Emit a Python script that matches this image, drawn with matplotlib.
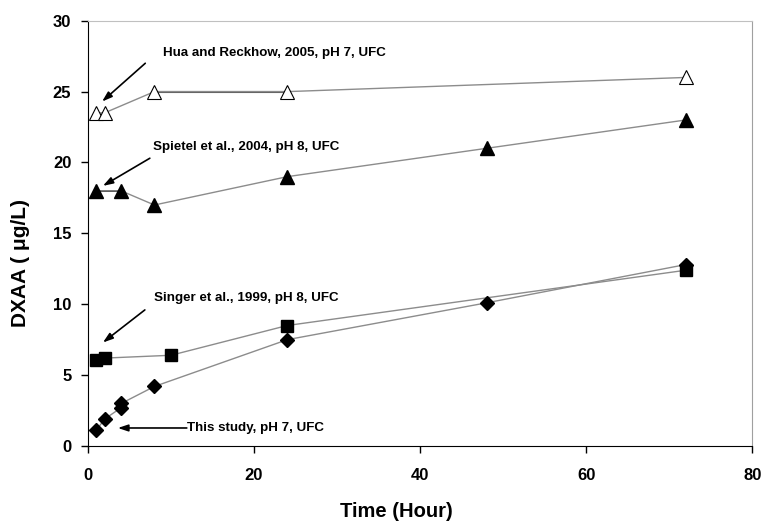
import matplotlib.pyplot as plt

plt.rcParams['font.family'] = ['Liberation Sans', 'DejaVu Sans']
plt.rcParams['font.weight'] = 'bold'

# Hua and Reckhow, 2005
hua_t = [1, 2, 8, 24, 72]
hua_y = [23.5, 23.5, 25.0, 25.0, 26.0]

# Spietel et al., 2004
spi_t = [1, 4, 8, 24, 48, 72]
spi_y = [18.0, 18.0, 17.0, 19.0, 21.0, 23.0]

# Singer et al., 1999
sin_t = [1, 2, 10, 24, 72]
sin_y = [6.1, 6.2, 6.4, 8.5, 12.4]

# This study
our_t = [1, 2, 4, 4, 8, 24, 48, 72]
our_y = [1.1, 1.9, 2.7, 3.0, 4.2, 7.5, 10.1, 12.8]

fig = plt.figure(figsize=(7.61, 5.25), dpi=100)
ax = fig.add_axes([0.1156, 0.1505, 0.873, 0.81])

gray = '#8c8c8c'
ax.plot(hua_t, hua_y, color=gray, lw=1, marker='^', ms=10, mfc='white', mec='black', mew=0.8)
ax.plot(hua_t[2:4], hua_y[2:4], color='#555555', lw=1.5, zorder=1)
ax.plot(spi_t, spi_y, color=gray, lw=1, marker='^', ms=10, mfc='black', mec='black')
ax.plot(spi_t[0:2], spi_y[0:2], color='black', lw=1.2, zorder=1)
ax.plot(sin_t, sin_y, color=gray, lw=1, marker='s', ms=9, mfc='black', mec='black')
ax.plot(our_t, our_y, color=gray, lw=1, marker='D', ms=7, mfc='black', mec='black')

# arrows + labels for each series
arrow = dict(arrowstyle='-|>,head_length=0.6,head_width=0.2', color='black', lw=1.2,
             shrinkA=0, shrinkB=0)
fs = 9.6
ax.annotate('', xy=(1.7, 24.3), xytext=(6.9, 27.0), arrowprops=arrow)
ax.text(9.0, 27.7, 'Hua and Reckhow, 2005, pH 7, UFC', fontsize=fs, va='center')
ax.annotate('', xy=(1.8, 18.35), xytext=(7.45, 20.3), arrowprops=arrow)
ax.text(7.8, 21.1, 'Spietel et al., 2004, pH 8, UFC', fontsize=fs, va='center')
ax.annotate('', xy=(1.8, 7.3), xytext=(6.85, 9.6), arrowprops=arrow)
ax.text(7.9, 10.45, 'Singer et al., 1999, pH 8, UFC', fontsize=fs, va='center')
ax.annotate('', xy=(3.6, 1.27), xytext=(11.9, 1.27), arrowprops=arrow)
ax.text(11.9, 1.27, 'This study, pH 7, UFC', fontsize=fs, va='center')

ax.set_xlim(0, 80)
ax.set_ylim(0, 30)
ax.set_xticks([0, 20, 40, 60, 80])
ax.set_yticks([0, 5, 10, 15, 20, 25, 30])
ax.tick_params(direction='out', length=5, width=1, labelsize=12)
ax.tick_params(axis='x', pad=11)
ax.tick_params(axis='y', pad=7)
ax.spines['top'].set_color('#c0c0c0')
ax.spines['right'].set_color('#a0a0a0')

ax.set_xlabel('Time (Hour)', fontsize=14.5, fontweight='bold')
ax.set_ylabel('DXAA ( \u03bcg/L)', fontsize=15, fontweight='bold')
ax.xaxis.set_label_coords(0.464, -0.153)
ax.xaxis.label.set_va('center')
ax.yaxis.set_label_coords(-0.102, 0.43)
ax.yaxis.label.set_va('center')

fig.savefig('out.png', dpi=100)
